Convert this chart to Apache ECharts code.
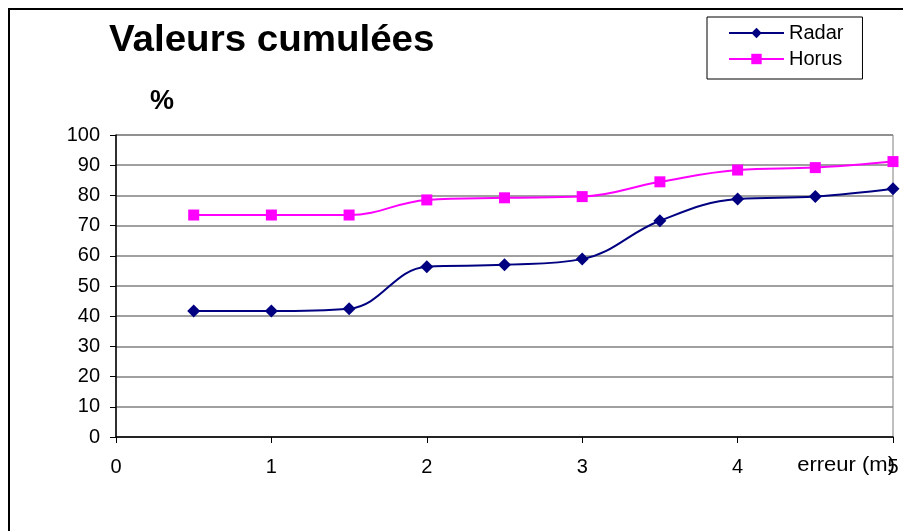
<!DOCTYPE html>
<html>
<head>
<meta charset="utf-8">
<script src="https://cdn.jsdelivr.net/npm/echarts@6/dist/echarts.min.js"></script>
<style>
  html, body { margin: 0; padding: 0; background: #fff; }
  #chart { width: 903px; height: 531px; }
</style>
</head>
<body>
<div id="chart"></div>
<script>
// Error thresholds (m) and cumulative share of positions within each threshold (%)
const erreurs = [0.5, 1, 1.5, 2, 2.5, 3, 3.5, 4, 4.5, 5];
const radar = [41.7, 41.7, 42.5, 56.4, 57.0, 58.9, 71.6, 78.8, 79.6, 82.2];
const horus = [73.5, 73.5, 73.5, 78.5, 79.2, 79.6, 84.5, 88.4, 89.2, 91.2];
const xTicks = [0, 1, 2, 3, 4, 5];
const yTicks = [0, 10, 20, 30, 40, 50, 60, 70, 80, 90, 100];

const FONT = '"Liberation Sans", Arial, sans-serif';

const pairs = (xs, ys) => xs.map((x, i) => [x, ys[i]]);

const chart = echarts.init(document.getElementById('chart'), null, { renderer: 'canvas' });

chart.setOption({
  animation: false,
  backgroundColor: '#ffffff',
  textStyle: { fontFamily: FONT },
  grid: {
    left: 116, top: 135, right: 10, bottom: 94,
    show: true, borderColor: '#808080', borderWidth: 1,
    backgroundColor: 'transparent'
  },
  legend: {
    orient: 'vertical',
    left: 707, top: 17,
    padding: [6, 19, 10, 21],
    itemGap: 6,
    itemWidth: 55, itemHeight: 13,
    borderColor: '#000', borderWidth: 1,
    textStyle: { fontFamily: FONT, fontSize: 20, color: '#000' },
    data: ['Radar', 'Horus']
  },
  xAxis: {
    type: 'value',
    min: xTicks[0], max: xTicks[xTicks.length - 1], interval: 1,
    axisLine: { show: true, onZero: false, lineStyle: { color: '#000', width: 1.5 } },
    axisTick: { show: true, inside: false, length: 6, lineStyle: { color: '#000' } },
    splitLine: { show: false },
    axisLabel: { fontFamily: FONT, fontSize: 20, color: '#000', margin: 20 }
  },
  yAxis: {
    type: 'value',
    min: yTicks[0], max: yTicks[yTicks.length - 1], interval: 10,
    axisLine: { show: true, lineStyle: { color: '#000', width: 1.5 } },
    axisTick: { show: true, inside: false, length: 6, lineStyle: { color: '#000' } },
    splitLine: { show: true, lineStyle: { color: '#808080', width: 1.5 } },
    axisLabel: { fontFamily: FONT, fontSize: 20, color: '#000', margin: 16 }
  },
  series: [
    {
      name: 'Radar',
      type: 'line',
      smooth: 0.4,
      data: pairs(erreurs, radar),
      symbol: 'diamond', symbolSize: 13,
      lineStyle: { color: '#000080', width: 2 },
      itemStyle: { color: '#000080' }
    },
    {
      name: 'Horus',
      type: 'line',
      smooth: 0.4,
      data: pairs(erreurs, horus),
      symbol: 'rect', symbolSize: 11,
      lineStyle: { color: '#ff00ff', width: 2 },
      itemStyle: { color: '#ff00ff' }
    }
  ],
  graphic: [
    {
      type: 'rect', silent: true, z: 100,
      shape: { x: 9, y: 9, width: 1200, height: 1200 },
      style: { fill: null, stroke: '#000', lineWidth: 2 }
    },
    {
      type: 'text', x: 109, y: 23, scaleX: 1.07,
      style: { text: 'Valeurs cumulées', x: 0, y: 0, verticalAlign: 'top',
               fontFamily: FONT, fontSize: 36, fontWeight: 'bold', fill: '#000' }
    },
    {
      type: 'text', x: 150, y: 88,
      style: { text: '%', x: 0, y: 0, verticalAlign: 'top',
               fontFamily: FONT, fontSize: 27, fontWeight: 'bold', fill: '#000' }
    },
    {
      type: 'text', x: 895, y: 465, scaleX: 1.1,
      style: { text: 'erreur (m)', x: 0, y: 0, align: 'right', verticalAlign: 'middle',
               fontFamily: FONT, fontSize: 20, fill: '#000' }
    }
  ]
});
</script>
</body>
</html>
